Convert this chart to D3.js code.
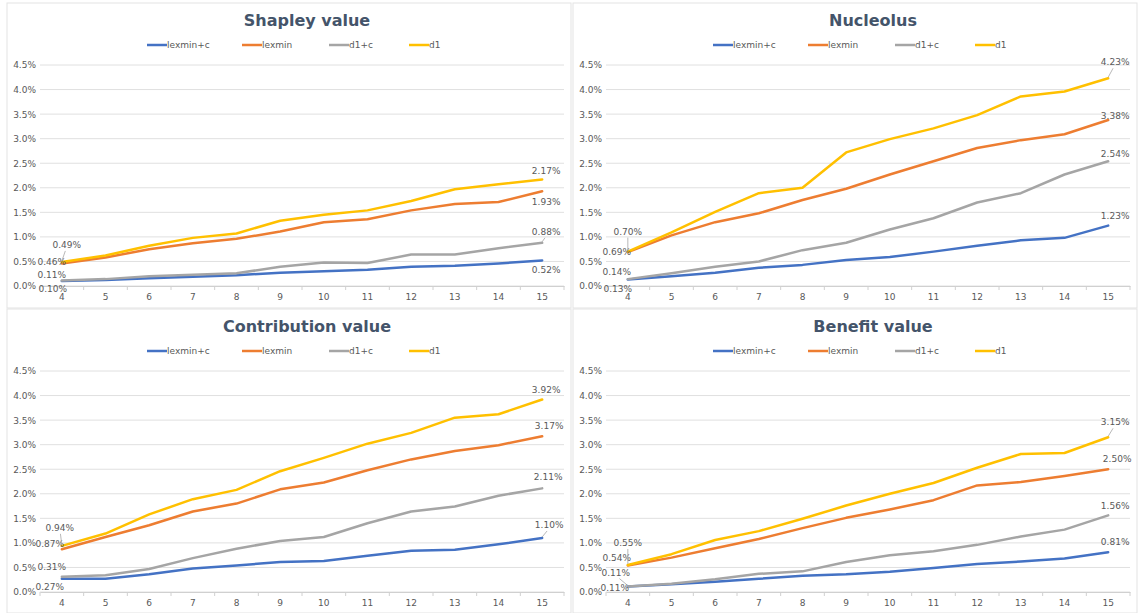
<!DOCTYPE html>
<html>
<head>
<meta charset="utf-8">
<script src="https://cdn.jsdelivr.net/npm/d3@7"></script>
<style>
  body { margin: 0; background: #fff; }
  text { font-family: "DejaVu Sans", sans-serif; }
</style>
</head>
<body>
<script>
    // categories (number of players) and series names
    const categories = [4, 5, 6, 7, 8, 9, 10, 11, 12, 13, 14, 15];
    const seriesNames = ["lexmin+c", "lexmin", "d1+c", "d1"];
    const yTicks = [0, 0.5, 1.0, 1.5, 2.0, 2.5, 3.0, 3.5, 4.0, 4.5];

    // values in percent
    const shapleyLexminC = [0.10, 0.12, 0.16, 0.19, 0.22, 0.27, 0.30, 0.33, 0.39, 0.41, 0.46, 0.52];
    const shapleyLexmin  = [0.46, 0.58, 0.75, 0.87, 0.96, 1.11, 1.30, 1.36, 1.54, 1.67, 1.71, 1.93];
    const shapleyD1C     = [0.11, 0.14, 0.20, 0.23, 0.26, 0.39, 0.48, 0.47, 0.64, 0.64, 0.77, 0.88];
    const shapleyD1      = [0.49, 0.62, 0.82, 0.98, 1.07, 1.33, 1.45, 1.54, 1.73, 1.97, 2.07, 2.17];

    const nucleolusLexminC = [0.13, 0.20, 0.27, 0.37, 0.43, 0.53, 0.59, 0.70, 0.82, 0.93, 0.98, 1.23];
    const nucleolusLexmin  = [0.69, 1.03, 1.30, 1.48, 1.75, 1.98, 2.27, 2.54, 2.81, 2.97, 3.09, 3.38];
    const nucleolusD1C     = [0.14, 0.26, 0.39, 0.50, 0.73, 0.88, 1.15, 1.38, 1.70, 1.89, 2.27, 2.54];
    const nucleolusD1      = [0.70, 1.09, 1.51, 1.89, 2.00, 2.72, 2.99, 3.21, 3.48, 3.86, 3.96, 4.23];

    const contribLexminC = [0.27, 0.27, 0.36, 0.48, 0.54, 0.61, 0.63, 0.74, 0.84, 0.86, 0.97, 1.10];
    const contribLexmin  = [0.87, 1.12, 1.36, 1.64, 1.80, 2.09, 2.23, 2.48, 2.70, 2.87, 2.99, 3.17];
    const contribD1C     = [0.31, 0.34, 0.47, 0.69, 0.88, 1.04, 1.12, 1.40, 1.64, 1.74, 1.96, 2.11];
    const contribD1      = [0.94, 1.19, 1.58, 1.89, 2.08, 2.46, 2.73, 3.02, 3.24, 3.55, 3.62, 3.92];

    const benefitLexminC = [0.11, 0.16, 0.21, 0.27, 0.33, 0.36, 0.41, 0.49, 0.57, 0.62, 0.68, 0.81];
    const benefitLexmin  = [0.54, 0.70, 0.89, 1.08, 1.30, 1.51, 1.68, 1.87, 2.17, 2.24, 2.36, 2.50];
    const benefitD1C     = [0.11, 0.17, 0.26, 0.37, 0.42, 0.61, 0.75, 0.83, 0.96, 1.13, 1.27, 1.56];
    const benefitD1      = [0.55, 0.77, 1.06, 1.24, 1.49, 1.76, 2.00, 2.22, 2.53, 2.81, 2.83, 3.15];

    const colors = ["#4472c4", "#ed7d31", "#a5a5a5", "#ffc000"];

    // label placement: [dx, dy, leader] for first and last point of each series
    const startLabels = [
        [[-9, 8, 0], [-10, -1, 0], [-10, -6, 0], [5, -17, 1]],
        [[-10, 9, 0], [-11, 0, 0], [-11, -7, 0], [0, -20, 1]],
        [[-12, 8, 0], [-12, -5, 0], [-10, -10, 0], [-2, -18, 1]],
        [[-13, 1, 0], [-11, -7, 0], [-12, -14, 1], [0, -22, 1]]
    ];
    const endLabels = [
        [[4, 10, 0], [4, 11, 0], [4, -11, 1], [4, -8, 0]],
        [[7, -10, 0], [7, -4, 0], [7, -7, 0], [7, -16, 1]],
        [[7, -13, 1], [7, -10, 0], [6, -11, 0], [4, -9, 0]],
        [[7, -10, 0], [9, -10, 0], [7, -9, 0], [7, -15, 1]]
    ];

    const panels = [
        { title: "Shapley value", x: 7, y: 3, h: 305, data: [shapleyLexminC, shapleyLexmin, shapleyD1C, shapleyD1] },
        { title: "Nucleolus", x: 573, y: 3, h: 305, data: [nucleolusLexminC, nucleolusLexmin, nucleolusD1C, nucleolusD1] },
        { title: "Contribution value", x: 7, y: 309, h: 304, data: [contribLexminC, contribLexmin, contribD1C, contribD1] },
        { title: "Benefit value", x: 573, y: 309, h: 304, data: [benefitLexminC, benefitLexmin, benefitD1C, benefitD1] }
    ];

    const svg = d3.select("body")
        .append("svg")
        .attr("width", 1138)
        .attr("height", 613);

    const fmt = v => v.toFixed(2) + "%";

    panels.forEach((p, pi) => {
        const g = svg.append("g").attr("transform", `translate(${p.x},${p.y})`);

        // frame
        g.append("rect")
            .attr("x", 0).attr("y", 0)
            .attr("width", 564).attr("height", p.h)
            .attr("fill", "#fff")
            .attr("stroke", "#e3e3e3");

        const x = d3.scaleBand().domain(categories).range([33, 557]);
        const y = d3.scaleLinear().domain([0, 4.5]).range([283, 62]);

        // Title
        g.append("text")
            .attr("x", 300)
            .attr("y", 17)
            .attr("text-anchor", "middle")
            .attr("dominant-baseline", "central")
            .attr("font-size", "16px")
            .attr("font-weight", "bold")
            .attr("fill", "#44546a")
            .text(p.title);

        // Legend
        const legendX = [140, 235, 322, 402];
        seriesNames.forEach((name, i) => {
            g.append("line")
                .attr("x1", legendX[i]).attr("x2", legendX[i] + 20)
                .attr("y1", 42).attr("y2", 42)
                .attr("stroke", colors[i])
                .attr("stroke-width", 2.5);
            g.append("text")
                .attr("x", legendX[i] + 20)
                .attr("y", 42)
                .attr("dominant-baseline", "central")
                .attr("font-size", "9px")
                .attr("fill", "#595959")
                .text(name);
        });

        // gridlines
        g.selectAll(".grid")
            .data(yTicks)
            .enter()
            .append("line")
            .attr("x1", 33).attr("x2", 557)
            .attr("y1", d => y(d)).attr("y2", d => y(d))
            .attr("stroke", "#e0e0e0")
            .attr("stroke-width", 1);

        // y axis labels
        const yAxis = d3.axisLeft(y).tickValues(yTicks).tickFormat(d => d.toFixed(1) + "%").tickSize(0).tickPadding(4);
        const ya = g.append("g").attr("transform", "translate(33,0)").call(yAxis);
        ya.select(".domain").remove();
        ya.selectAll("text").attr("font-size", "9px").attr("fill", "#595959")
            .attr("font-family", "DejaVu Sans, sans-serif");

        // x axis
        const xAxis = d3.axisBottom(x).tickSize(0).tickPadding(8);
        const xa = g.append("g").attr("transform", "translate(0,283)").call(xAxis);
        xa.select(".domain").attr("stroke", "#d0d0d0");
        xa.selectAll("text").attr("font-size", "9px").attr("fill", "#595959")
            .attr("font-family", "DejaVu Sans, sans-serif");
        const bounds = categories.map(c => x(c)).concat([x(categories[categories.length - 1]) + x.bandwidth()]);
        g.selectAll(".xtick")
            .data(bounds)
            .enter()
            .append("line")
            .attr("x1", d => d).attr("x2", d => d)
            .attr("y1", 283).attr("y2", 287)
            .attr("stroke", "#d0d0d0");

        // lines
        const line = d3.line()
            .x((d, i) => x(categories[i]) + x.bandwidth() / 2)
            .y(d => y(d));

        p.data.forEach((vals, si) => {
            g.append("path")
                .attr("d", line(vals))
                .attr("fill", "none")
                .attr("stroke", colors[si])
                .attr("stroke-width", 2.5)
                .attr("stroke-linejoin", "round")
                .attr("stroke-linecap", "round");
        });

        // data labels on first and last points
        p.data.forEach((vals, si) => {
            [[0, startLabels[pi][si]], [vals.length - 1, endLabels[pi][si]]].forEach(([idx, off]) => {
                const px = x(categories[idx]) + x.bandwidth() / 2;
                const py = y(vals[idx]);
                const lx = px + off[0];
                const ly = py + off[1];
                if (off[2]) {
                    const dir = off[1] < 0 ? 1 : -1;
                    g.append("line")
                        .attr("x1", px).attr("y1", py - 1)
                        .attr("x2", lx + (px - lx) * 0.3).attr("y2", ly + dir * 6)
                        .attr("stroke", "#a6a6a6")
                        .attr("stroke-width", 0.8);
                }
                g.append("text")
                    .attr("x", lx)
                    .attr("y", ly)
                    .attr("text-anchor", "middle")
                    .attr("dominant-baseline", "central")
                    .attr("font-size", "9px")
                    .attr("fill", "#595959")
                    .text(fmt(vals[idx]));
            });
        });
    });
</script>
</body>
</html>
